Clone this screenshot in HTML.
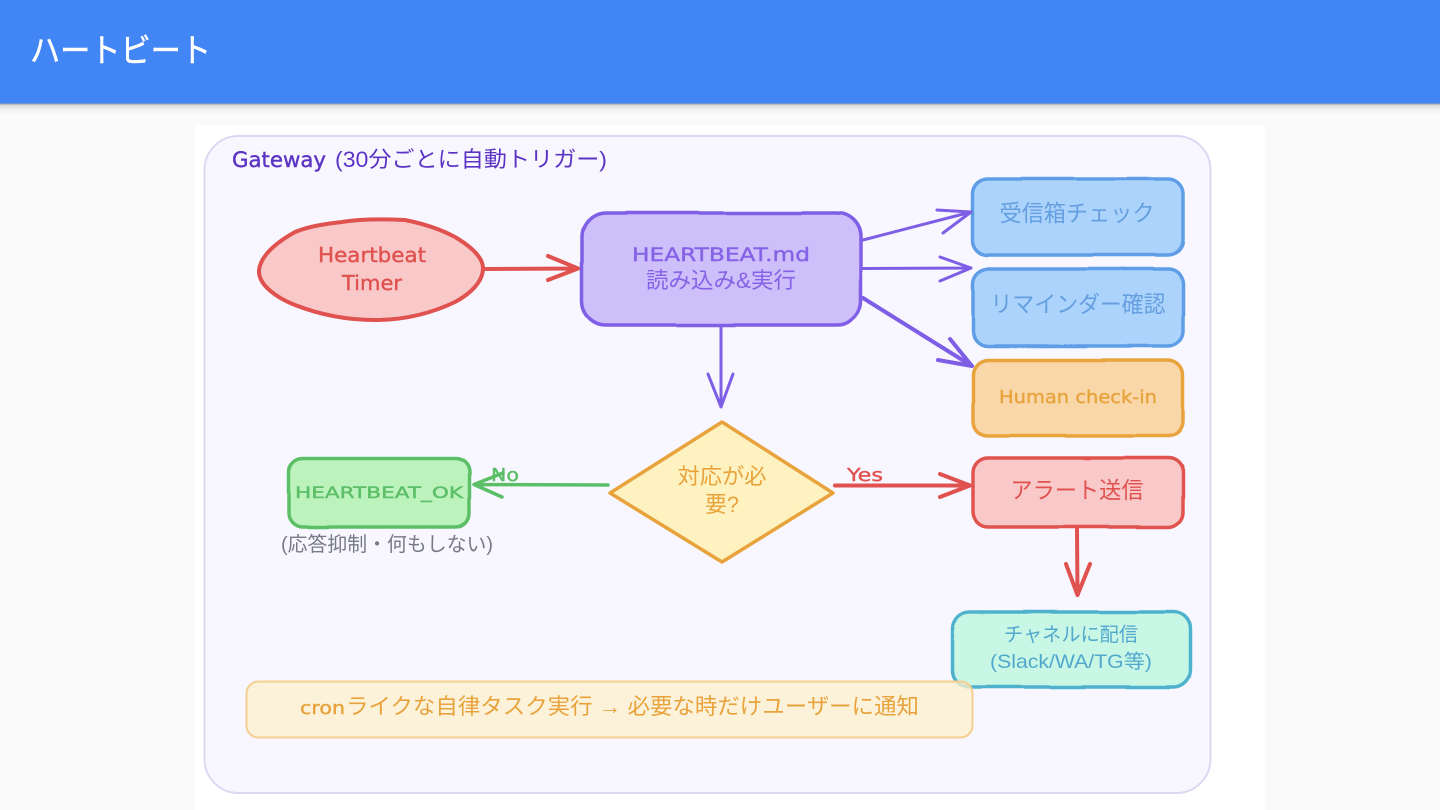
<!DOCTYPE html>
<html lang="ja"><head><meta charset="utf-8"><title>ハートビート</title>
<style>
html,body{margin:0;padding:0;width:1440px;height:810px;overflow:hidden;background:#fafafa}
svg{display:block;position:absolute;left:0;top:0}
text{font-family:"Liberation Sans","Noto Sans CJK JP",sans-serif}
.h{font-family:"DejaVu Sans","Noto Sans CJK JP",sans-serif;stroke-width:.4}
</style></head><body>
<svg width="1440" height="810" viewBox="0 0 1440 810" xmlns="http://www.w3.org/2000/svg">
<defs>
<linearGradient id="s" x1="0" y1="0" x2="0" y2="1"><stop offset="0" stop-color="#8f8f8f"/><stop offset="0.2" stop-color="#dcdcdc"/><stop offset="0.6" stop-color="#f3f3f3"/><stop offset="1" stop-color="#fafafa"/></linearGradient>
<filter id="r" filterUnits="userSpaceOnUse" x="0" y="0" width="1440" height="810">
<feTurbulence type="fractalNoise" baseFrequency="0.012" numOctaves="1" seed="4" result="n"/>
<feDisplacementMap in="SourceGraphic" in2="n" scale="3" xChannelSelector="R" yChannelSelector="G"/>
</filter>
</defs>
<rect width="1440" height="810" fill="#fafafa"/>
<rect x="0" y="103" width="1440" height="12" fill="url(#s)"/>
<rect x="0" y="0" width="1440" height="103.500" fill="#4285f4"/>
<text x="30" y="62" font-size="33" fill="#fff" stroke="#fff" stroke-width=".5" textLength="181" lengthAdjust="spacingAndGlyphs">ハートビート</text>

<rect x="195" y="125" width="1070" height="685" fill="#fff"/>
<rect x="204.500" y="136" width="1006" height="657" rx="34" fill="#f8f7ff" stroke="#dcd8f2" stroke-width="2"/>
<text class="h" x="232" y="167" font-size="21" fill="#5b34c4" stroke="#5b34c4" textLength="94" lengthAdjust="spacingAndGlyphs">Gateway</text>
<text x="335" y="167" font-size="22" fill="#5b34c4" textLength="272" lengthAdjust="spacingAndGlyphs">(30分ごとに自動トリガー)</text>

<!-- Ellipse -->
<path d="M259 270C261 254 279 241 295 232C310 226 325 224 342 222C360 219 385 219 405 220C425 224 442 230 455 237C470 246 483 257 483 268C483 282 470 294 455 302C430 314 402 320 375 320C345 320 318 314 295 305C277 298 258 285 259 270Z" fill="#f9c9c9" stroke="#e0524f" stroke-width="4"/>
<text class="h" x="372" y="262" font-size="20" fill="#e0524f" stroke="#e0524f" text-anchor="middle" textLength="108" lengthAdjust="spacingAndGlyphs">Heartbeat</text>
<text class="h" x="372" y="290" font-size="20" fill="#e0524f" stroke="#e0524f" text-anchor="middle" textLength="60" lengthAdjust="spacingAndGlyphs">Timer</text>

<!-- Main box -->
<rect x="582" y="213" width="279" height="112" rx="24" fill="#cdbffa" stroke="#7f5ee6" stroke-width="3.500" filter="url(#r)"/>
<text class="h" x="721" y="261" font-size="19" fill="#8562e6" stroke="#8562e6" text-anchor="middle" textLength="178" lengthAdjust="spacingAndGlyphs">HEARTBEAT.md</text>
<text x="721" y="288" font-size="22" fill="#8562e6" text-anchor="middle" textLength="150" lengthAdjust="spacingAndGlyphs">読み込み&amp;実行</text>

<!-- Right boxes -->
<rect x="973" y="179" width="210" height="76" rx="15" fill="#abd3fb" stroke="#5f9ee6" stroke-width="3.500" filter="url(#r)"/>
<text x="1077" y="221" font-size="23" fill="#669fe0" text-anchor="middle" textLength="155" lengthAdjust="spacingAndGlyphs">受信箱チェック</text>
<rect x="973" y="269" width="210" height="77" rx="15" fill="#abd3fb" stroke="#5f9ee6" stroke-width="3.500" filter="url(#r)"/>
<text x="1078" y="312" font-size="23" fill="#669fe0" text-anchor="middle" textLength="175" lengthAdjust="spacingAndGlyphs">リマインダー確認</text>
<rect x="973" y="360" width="210" height="76" rx="15" fill="#f9d7a8" stroke="#e8a33d" stroke-width="3.500" filter="url(#r)"/>
<text class="h" x="1078" y="403" font-size="18" fill="#e8a33d" stroke="#e8a33d" text-anchor="middle" textLength="158" lengthAdjust="spacingAndGlyphs">Human check-in</text>

<!-- Alert -->
<rect x="973" y="458" width="210" height="69" rx="15" fill="#f9c9c9" stroke="#e0524f" stroke-width="3.500" filter="url(#r)"/>
<text x="1077" y="498" font-size="23" fill="#e0524f" text-anchor="middle" textLength="133" lengthAdjust="spacingAndGlyphs">アラート送信</text>

<!-- Teal -->
<rect x="953" y="612" width="237" height="75" rx="17" fill="#c8f7e6" stroke="#4fb2cc" stroke-width="3.500" filter="url(#r)"/>
<text x="1071" y="641" font-size="19.500" fill="#52a8cc" text-anchor="middle" textLength="134" lengthAdjust="spacingAndGlyphs">チャネルに配信</text>
<text x="1071" y="668" font-size="19.500" fill="#52a8cc" text-anchor="middle" textLength="162" lengthAdjust="spacingAndGlyphs">(Slack/WA/TG等)</text>

<!-- Bottom note -->
<rect x="246.500" y="681.500" width="726" height="56" rx="12" fill="#fdf0cc" fill-opacity="0.75" stroke="#f5cf90" stroke-width="2"/>
<text class="h" x="300" y="714" font-size="18" fill="#e8a33d" stroke="#e8a33d" textLength="45" lengthAdjust="spacingAndGlyphs">cron</text>
<text x="346" y="714" font-size="22" fill="#e8a33d" textLength="573" lengthAdjust="spacingAndGlyphs">ライクな自律タスク実行 → 必要な時だけユーザーに通知</text>

<!-- Diamond -->
<path d="M722 422L833 493L722 562L610 493Z" fill="#fdf2c0" stroke="#e8a33d" stroke-width="3.500" stroke-linejoin="round"/>
<text x="722" y="484" font-size="22" fill="#e8a33d" text-anchor="middle" textLength="89" lengthAdjust="spacingAndGlyphs">対応が必</text>
<text x="722" y="512" font-size="22" fill="#e8a33d" text-anchor="middle" textLength="34" lengthAdjust="spacingAndGlyphs">要?</text>

<!-- Green -->
<rect x="288.500" y="458" width="181" height="69" rx="14" fill="#bcf2bb" stroke="#5cbf68" stroke-width="3.500" filter="url(#r)"/>
<text class="h" x="379" y="498" font-size="16" fill="#5cbf68" stroke="#5cbf68" text-anchor="middle" textLength="168" lengthAdjust="spacingAndGlyphs">HEARTBEAT_OK</text>
<text x="387" y="551" font-size="20" fill="#777a85" text-anchor="middle" textLength="212" lengthAdjust="spacingAndGlyphs">(応答抑制・何もしない)</text>

<!-- Arrows -->
<g fill="none" stroke-linecap="round" stroke-linejoin="round">
<g stroke="#e0524f" stroke-width="4">
<path d="M484 269L578 268.500M548 256L578 268.500L548 280"/>
<path d="M835 485.500L970 485.500M940 474L970 485.500L940 497"/>
<path d="M1077 529L1077.500 595M1066 564L1077.500 595L1090 564"/>
</g>
<g stroke="#7f5ee6" stroke-width="3">
<path d="M863 240L971 212M937 210L971 212L943 233"/>
<path d="M863 268.500L971 268M940 257L971 268L940 281"/>
<path d="M721 327L721 407M708 374L721 407L733 374"/>
</g>
<path d="M863 298L972 366M950 339L972 366L938 360" stroke="#7f5ee6" stroke-width="4"/>
<path d="M608 485L474 484.500M503 473L474 484.500L502 497" stroke="#5cbf68" stroke-width="3.500"/>
</g>
<text class="h" x="491" y="481" font-size="18" fill="#5cbf68" stroke="#5cbf68" textLength="28" lengthAdjust="spacingAndGlyphs">No</text>
<text class="h" x="847" y="481" font-size="18" fill="#e0524f" stroke="#e0524f" textLength="36" lengthAdjust="spacingAndGlyphs">Yes</text>
</svg>
</body></html>
